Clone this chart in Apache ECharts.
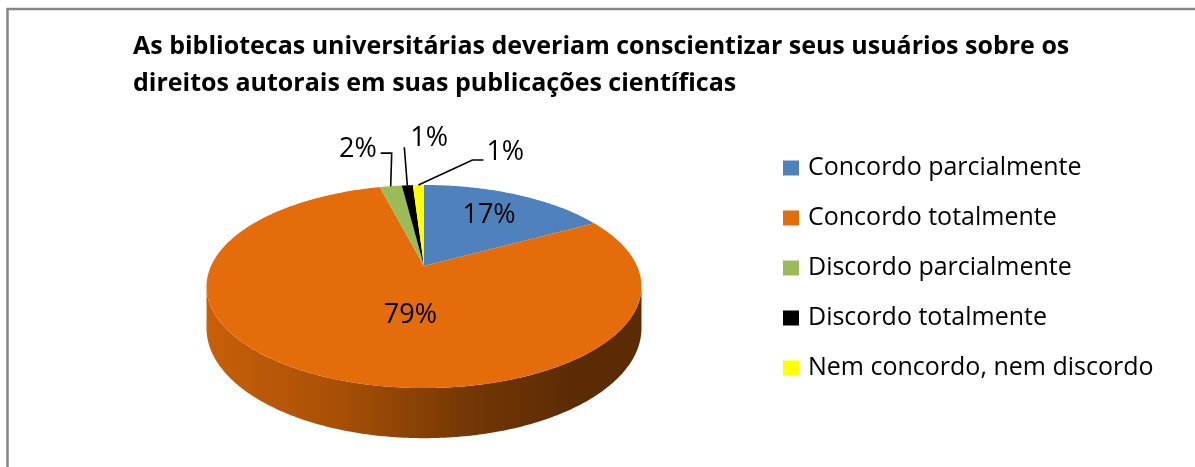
<!DOCTYPE html>
<html>
<head>
<meta charset="utf-8">
<script src="https://cdn.jsdelivr.net/npm/echarts@6/dist/echarts.min.js"></script>
<style>
html,body{margin:0;padding:0;background:#fff;}
#chart{width:1195px;height:467px;}
</style>
</head>
<body>
<div id="chart"></div>
<script>
// ---- data ----
const titleLines = [
  'As bibliotecas universitárias deveriam conscientizar seus usuários sobre os',
  'direitos autorais em suas publicações científicas'
];
const categories = ['Concordo parcialmente', 'Concordo totalmente', 'Discordo parcialmente', 'Discordo totalmente', 'Nem concordo, nem discordo'];
const values = [17, 79, 2, 1, 1];
const colors = ['#4F81BD', '#E46C0A', '#9BBB59', '#000000', '#FFFF00'];

// ---- layout (3D pie projection) ----
const G = { cx: 424, cy: 266, R: 213, A: 97.4, B: 0.202, h: 40 };
const FONT = '"Open Sans", Lato, sans-serif';
const labelCfg = [
  { type: 'in', r: 0.67, dx: 0 },
  { type: 'in', r: 0.5, dx: 33 },
  { type: 'out', leader: [[1, -33], [-10, -33]], text: [-14, -37], align: 'right' },
  { type: 'out', leader: [[-3, -38]], text: [3, -47], align: 'left' },
  { type: 'out', leader: [[54, -25], [65, -25]], text: [68, -33], align: 'left' }
];

const total = values.reduce((a, b) => a + b, 0);
const starts = [];
values.reduce((acc, v, i) => { starts[i] = acc; return acc + v; }, 0);

function proj(r, deg, drop) {
  const t = deg * Math.PI / 180;
  const s = r * Math.sin(t), c = r * Math.cos(t);
  const k = 1 / (1 + G.B * s);
  return [G.cx + G.R * c * k, G.cy - G.A * s * k + (drop || 0) * k];
}
function shade(hex, f) {
  const n = parseInt(hex.slice(1), 16);
  const r = Math.round(((n >> 16) & 255) * f), g = Math.round(((n >> 8) & 255) * f), b = Math.round((n & 255) * f);
  return 'rgb(' + r + ',' + g + ',' + b + ')';
}
function arc(from, to, drop) {
  const pts = [];
  const n = Math.max(2, Math.ceil(Math.abs(from - to) / 0.5));
  for (let i = 0; i <= n; i++) pts.push(proj(1, from + (to - from) * i / n, drop));
  return pts;
}

const thR = -Math.asin(G.B) * 180 / Math.PI;
const thL = -180 - thR;

function renderItem(params, api) {
  const idx = params.seriesIndex;
  const start = api.value(0), val = api.value(1);
  const color = colors[idx];
  const a0 = 90 - start / total * 360;
  const a1 = 90 - (start + val) / total * 360;
  const children = [];
  // walls
  for (let k = -1; k <= 1; k++) {
    const lo = Math.max(a1, thL + 360 * k), hi = Math.min(a0, thR + 360 * k);
    if (lo < hi) {
      const top = arc(hi, lo, 0);
      const bot = arc(lo, hi, G.h);
      const x0 = G.cx - G.R * 1.03, x1 = G.cx + G.R * 1.03;
      children.push({
        type: 'polygon', z2: 1,
        shape: { points: top.concat(bot) },
        style: {
          fill: { type: 'linear', x: x0, y: 0, x2: x1, y2: 0, global: true,
            colorStops: [
              { offset: 0, color: shade(color, 0.88) },
              { offset: 0.3, color: shade(color, 0.74) },
              { offset: 0.62, color: shade(color, 0.5) },
              { offset: 0.85, color: shade(color, 0.4) },
              { offset: 1, color: shade(color, 0.4) }
            ] }
        }
      });
    }
  }
  // top face
  children.push({
    type: 'polygon', z2: 5,
    shape: { points: [[G.cx, G.cy]].concat(arc(a0, a1, 0)) },
    style: { fill: color }
  });
  // label
  const cfg = labelCfg[idx];
  const mid = (a0 + a1) / 2;
  const txt = Math.round(val / total * 100) + '%';
  if (cfg.type === 'in') {
    const p = proj(cfg.r, mid, 0);
    children.push({ type: 'text', z2: 20,
      style: { text: txt, x: p[0] + cfg.dx, y: p[1], align: 'center', verticalAlign: 'middle',
        fill: '#000', fontSize: 27, fontFamily: FONT } });
  } else {
    const p = proj(1, mid, 0);
    const pts = [p].concat(cfg.leader.map(d => [p[0] + d[0], p[1] + d[1]]));
    children.push({ type: 'polyline', z2: 15, shape: { points: pts },
      style: { stroke: '#000', lineWidth: 1.6, fill: null } });
    children.push({ type: 'text', z2: 20,
      style: { text: txt, x: p[0] + cfg.text[0], y: p[1] + cfg.text[1], align: cfg.align, verticalAlign: 'middle',
        fill: '#000', fontSize: 27, fontFamily: FONT } });
  }
  return { type: 'group', children: children };
}

const chart = echarts.init(document.getElementById('chart'));
chart.setOption({
  animation: false,
  backgroundColor: '#fff',
  title: {
    text: titleLines.join('\n'),
    left: 133, top: 28, padding: 0,
    textStyle: { fontFamily: FONT, fontWeight: 'bold', fontSize: 25, lineHeight: 37, color: '#000' }
  },
  legend: {
    orient: 'vertical', left: 783, top: 153, padding: 0,
    icon: 'rect', itemWidth: 16, itemHeight: 15, itemGap: 20,
    selectedMode: false,
    data: categories,
    textStyle: { fontFamily: FONT, fontSize: 25, lineHeight: 30, color: '#000', padding: [0, 0, 0, 4] }
  },
  graphic: [{
    type: 'rect', silent: true, z: -1,
    shape: { x: 7.5, y: 9, width: 1400, height: 700 },
    style: { fill: null, stroke: '#868686', lineWidth: 2.5 }
  }],
  series: categories.map((name, i) => ({
    type: 'custom',
    name: name,
    coordinateSystem: 'none',
    itemStyle: { color: colors[i] },
    renderItem: renderItem,
    data: [[starts[i], values[i]]]
  }))
});
</script>
</body>
</html>
